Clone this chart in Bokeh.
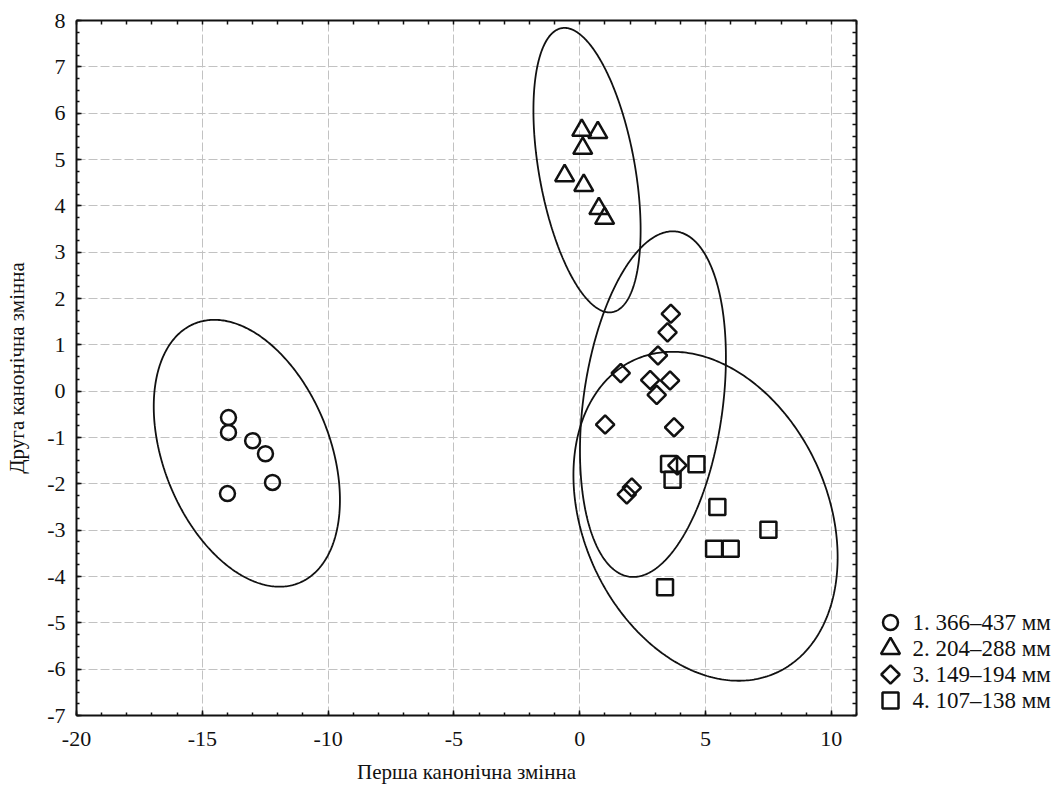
import numpy as np
from bokeh.plotting import figure
from bokeh.models import Range1d, LinearAxis, SingleIntervalTicker, FixedTicker
from bokeh.layouts import row
from bokeh.embed import file_html
from bokeh.resources import INLINE
from bokeh.core.properties import value

# ---- data ----
g1_x = [-13.96, -13.96, -13.0, -12.49, -12.21, -14.0]
g1_y = [-0.57, -0.89, -1.07, -1.35, -1.97, -2.21]

g2_x = [0.08, 0.72, 0.12, -0.60, 0.16, 0.76, 0.99]
g2_y = [5.63, 5.58, 5.24, 4.65, 4.44, 3.94, 3.73]

g3_x = [3.62, 3.49, 3.11, 1.63, 2.80, 3.59, 3.06, 1.01, 3.75, 3.88, 2.07, 1.87]
g3_y = [1.67, 1.27, 0.77, 0.39, 0.24, 0.23, -0.08, -0.72, -0.78, -1.60, -2.08, -2.23]

g4_x = [3.55, 4.64, 3.69, 5.47, 7.50, 5.34, 6.00, 3.39]
g4_y = [-1.57, -1.58, -1.91, -2.50, -2.99, -3.40, -3.40, -4.23]

# confidence ellipses: centre, half-extent in x and y, correlation
ell_cx = [-13.23, 0.29, 2.91, 5.00]
ell_cy = [-1.34, 4.77, -0.28, -2.70]
ell_sx = [3.70, 2.13, 2.90, 5.25]
ell_sy = [2.88, 3.07, 3.73, 3.55]
ell_rho = [-0.35, -0.42, 0.27, -0.25]

x_ticks = [-20, -15, -10, -5, 0, 5, 10]
y_ticks = list(range(-7, 9))
legend_labels = ["1. 366–437 мм", "2. 204–288 мм", "3. 149–194 мм", "4. 107–138 мм"]
x_title = "Перша канонічна змінна"
y_title = "Друга канонічна змінна"

FONT = "Liberation Serif"
INK = "#111111"

p = figure(width=870, height=791, x_range=Range1d(-20, 11), y_range=Range1d(-7, 8),
           output_backend="svg", toolbar_location=None,
           min_border_left=76, min_border_right=14, min_border_top=20, min_border_bottom=76,
           x_axis_label=x_title, y_axis_label=y_title)
p.outline_line_color = None
p.background_fill_color = "white"
p.border_fill_color = "white"

xt = SingleIntervalTicker(interval=5, num_minor_ticks=5)
yt = SingleIntervalTicker(interval=1, num_minor_ticks=4)
top_ax = LinearAxis(ticker=FixedTicker(ticks=[], minor_ticks=[float(v) for v in np.arange(-20, 11.5, 1.0)]))
right_ax = LinearAxis(ticker=FixedTicker(ticks=[], minor_ticks=[float(v) for v in np.arange(-7, 8.1, 0.25)]))
p.add_layout(top_ax, "above")
p.add_layout(right_ax, "right")

bx = p.below[0]
ly = p.left[0]
bx.ticker = xt
bx.major_label_overrides = {v: str(v) for v in x_ticks}
ly.ticker = yt
ly.major_label_overrides = {v: str(v) for v in y_ticks}

for ax in (bx, ly, top_ax, right_ax):
    ax.axis_line_color = INK
    ax.axis_line_width = 2
    ax.major_tick_in = 5
    ax.major_tick_out = 0
    ax.minor_tick_in = 3
    ax.minor_tick_out = 0
    ax.major_tick_line_color = INK
    ax.minor_tick_line_color = INK
    ax.major_tick_line_width = 1.5
    ax.minor_tick_line_width = 1.5
    ax.major_label_text_font = FONT
    ax.major_label_text_font_size = "22px"
    ax.major_label_text_color = INK
    ax.axis_label_text_font = FONT
    ax.axis_label_text_font_size = "21px"
    ax.axis_label_text_font_style = "normal"
    ax.axis_label_text_color = INK
top_ax.minor_tick_in = 4
right_ax.minor_tick_in = 4
bx.major_label_standoff = 16
bx.axis_label_standoff = 11
ly.major_label_standoff = 11
ly.axis_label_standoff = 15

p.xgrid.ticker = xt
p.ygrid.ticker = yt
p.grid.grid_line_color = "#c2c2c2"
p.grid.grid_line_width = 1
p.grid.grid_line_dash = "9 3"

# ellipses
t = np.linspace(0, 2 * np.pi, 400)
for i in range(len(ell_cx)):
    ex = ell_cx[i] + ell_sx[i] * np.cos(t)
    ey = ell_cy[i] + ell_sy[i] * (ell_rho[i] * np.cos(t) + np.sqrt(1 - ell_rho[i] ** 2) * np.sin(t))
    p.line(ex, ey, line_color=INK, line_width=1.8)

styles = [
    dict(marker="circle", size=15, angle=0.0),
    dict(marker="triangle", size=19, angle=0.0),
    dict(marker="square", size=13, angle=np.pi / 4),
    dict(marker="square", size=16, angle=0.0),
]
groups = [(g1_x, g1_y), (g2_x, g2_y), (g3_x, g3_y), (g4_x, g4_y)]
for (gx, gy), st in zip(groups, styles):
    p.scatter(gx, gy, marker=st["marker"], size=st["size"], angle=st["angle"],
              fill_color=None, line_color=INK, line_width=2.5)

# legend panel (its frame is aligned with the main frame: 20..715 px)
lg = figure(width=193, height=791, x_range=Range1d(0, 193), y_range=Range1d(715, 20),
            output_backend="svg", toolbar_location=None,
            x_axis_location=None, y_axis_location=None,
            min_border_left=0, min_border_right=0, min_border_top=20, min_border_bottom=76)
lg.grid.visible = False
lg.outline_line_color = None
lg.background_fill_color = "white"
lg.border_fill_color = "white"
row_y = [622 + 26 * i for i in range(len(legend_labels))]
for i, st in enumerate(styles):
    lg.scatter([20], [row_y[i]], marker=st["marker"], size=st["size"], angle=st["angle"],
               fill_color=None, line_color=INK, line_width=2.5)
lg.text(x=[42] * len(legend_labels), y=row_y, text=legend_labels,
        text_font=value(FONT), text_font_size="23px", text_baseline="middle",
        text_color=INK)

layout = row(p, lg)
open("out.html", "w").write(file_html(layout, INLINE))
